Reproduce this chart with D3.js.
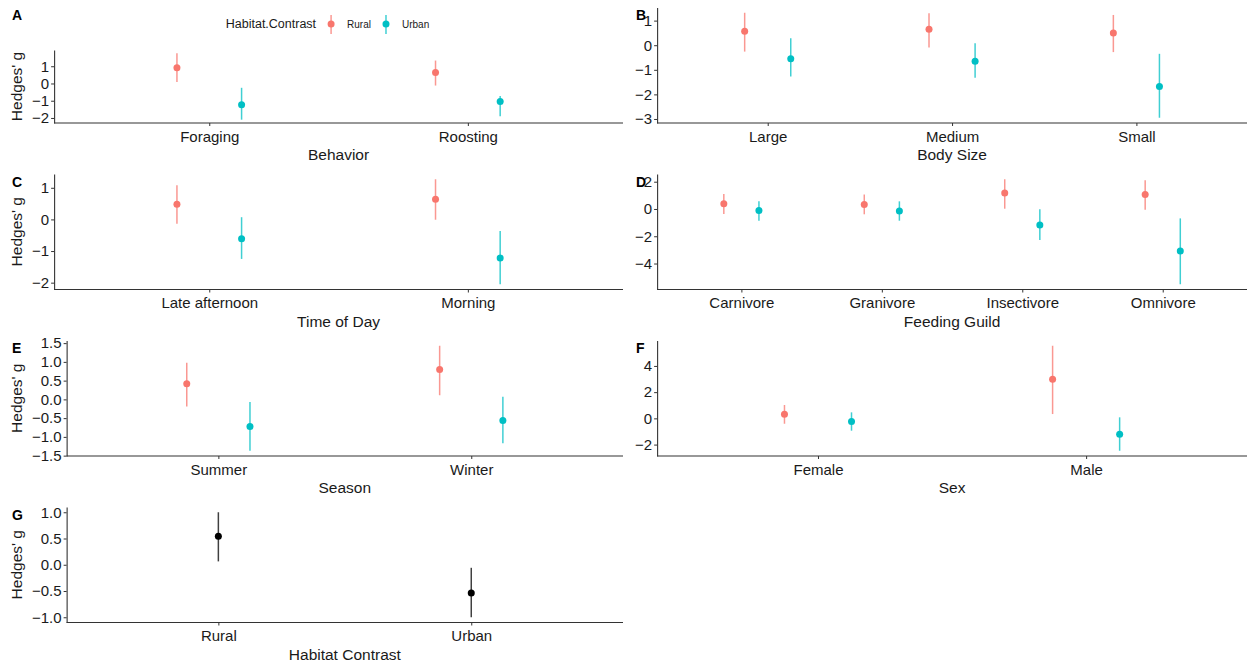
<!DOCTYPE html>
<html>
<head>
<meta charset="utf-8">
<script src="https://cdn.jsdelivr.net/npm/d3@7"></script>
<style>
body { margin: 0; background: #fff; }
svg text { font-family: "Liberation Sans", Arial, sans-serif; }
</style>
</head>
<body>
<div id="chart"></div>
<script>
var groups = ["Rural", "Urban"];
var groupColors = ["#F8766D", "#00BFC4"];

// every row is [estimate, lower, upper]
var behaviorCats = ["Foraging", "Roosting"];
var behaviorRural = [[0.92, 0.08, 1.75], [0.63, -0.12, 1.33]];
var behaviorUrban = [[-1.23, -2.10, -0.25], [-1.04, -1.90, -0.73]];
var behaviorTicks = [-2, -1, 0, 1];

var bodyCats = ["Large", "Medium", "Small"];
var bodyRural = [[0.57, -0.26, 1.32], [0.65, -0.09, 1.30], [0.50, -0.28, 1.23]];
var bodyUrban = [[-0.55, -1.27, 0.28], [-0.65, -1.32, 0.08], [-1.68, -2.95, -0.35]];
var bodyTicks = [-3, -2, -1, 0, 1];

var timeCats = ["Late afternoon", "Morning"];
var timeRural = [[0.48, -0.14, 1.08], [0.64, -0.01, 1.27]];
var timeUrban = [[-0.61, -1.25, 0.07], [-1.22, -2.05, -0.37]];
var timeTicks = [-2, -1, 0, 1];

var guildCats = ["Carnivore", "Granivore", "Insectivore", "Omnivore"];
var guildRural = [[0.39, -0.37, 1.10], [0.32, -0.39, 1.06], [1.18, 0.02, 2.18], [1.06, -0.05, 2.11]];
var guildUrban = [[-0.12, -0.86, 0.56], [-0.15, -0.86, 0.56], [-1.18, -2.28, -0.02], [-3.09, -5.52, -0.69]];
var guildTicks = [-4, -2, 0, 2];

var seasonCats = ["Summer", "Winter"];
var seasonRural = [[0.42, -0.19, 0.98], [0.80, 0.11, 1.43]];
var seasonUrban = [[-0.72, -1.37, -0.07], [-0.56, -1.17, 0.07]];
var seasonTicks = [-1.5, -1.0, -0.5, 0.0, 0.5, 1.0, 1.5];

var sexCats = ["Female", "Male"];
var sexRural = [[0.31, -0.41, 1.02], [2.98, 0.33, 5.54]];
var sexUrban = [[-0.23, -0.94, 0.46], [-1.22, -2.47, 0.08]];
var sexTicks = [-2, 0, 2, 4];

var habitatCats = ["Rural", "Urban"];
var habitatAll = [[0.545, 0.064, 1.0], [-0.54, -1.0, -0.058]];
var habitatTicks = [-1.0, -0.5, 0.0, 0.5, 1.0];

var panels = [
  {tag: "A", title: "Behavior", cats: behaviorCats, series: [behaviorRural, behaviorUrban], ticks: behaviorTicks, fmt: "d", col: 0, row: 0, legend: true},
  {tag: "B", title: "Body Size", cats: bodyCats, series: [bodyRural, bodyUrban], ticks: bodyTicks, fmt: "d", col: 1, row: 0},
  {tag: "C", title: "Time of Day", cats: timeCats, series: [timeRural, timeUrban], ticks: timeTicks, fmt: "d", col: 0, row: 1},
  {tag: "D", title: "Feeding Guild", cats: guildCats, series: [guildRural, guildUrban], ticks: guildTicks, fmt: "d", col: 1, row: 1},
  {tag: "E", title: "Season", cats: seasonCats, series: [seasonRural, seasonUrban], ticks: seasonTicks, fmt: ".1f", col: 0, row: 2},
  {tag: "F", title: "Sex", cats: sexCats, series: [sexRural, sexUrban], ticks: sexTicks, fmt: "d", col: 1, row: 2},
  {tag: "G", title: "Habitat Contrast", cats: habitatCats, series: [habitatAll], colors: ["#000"], ticks: habitatTicks, fmt: ".1f", col: 0, row: 3}
];

var W = 1254, H = 666;
var colW = 627, rowH = H / 4;
var axisColor = "#333", textColor = "#1a1a1a";

var svg = d3.select("#chart").append("svg")
    .attr("width", W)
    .attr("height", H);

function styleAxis(sel) {
  sel.attr("font-size", 15)
     .attr("font-family", "Liberation Sans, Arial, sans-serif");
  sel.select(".domain").attr("stroke", axisColor).attr("stroke-width", 1.1);
  sel.selectAll(".tick line").attr("stroke", axisColor).attr("stroke-width", 1);
  sel.selectAll(".tick text").attr("fill", textColor);
}

function drawPanel(p) {
  var x0 = p.col * colW, y0 = p.row * rowH;
  var g = svg.append("g");
  var top = y0 + (p.legend ? 50 : 7.5), bottom = y0 + 123;

  // y range like ggplot: data extent plus 5%
  var all = [].concat.apply([], p.series);
  var lo = d3.min(all, function(d) { return d[1]; });
  var hi = d3.max(all, function(d) { return d[2]; });
  var pad = (hi - lo) * 0.05;
  var y = d3.scaleLinear().domain([lo - pad, hi + pad]).range([bottom, top]);

  var yAxis = g.append("g")
      .call(d3.axisLeft(y).tickValues(p.ticks).tickFormat(d3.format(p.fmt))
            .tickSize(3).tickSizeOuter(0).tickPadding(2));
  styleAxis(yAxis);
  var labW = d3.max(yAxis.selectAll(".tick text").nodes(), function(n) { return n.getComputedTextLength(); });
  var left = x0 + (p.col === 0 ? 32 : 8) + labW + 5;
  yAxis.attr("transform", "translate(" + left + ",0)");

  var right = x0 + colW - (p.col === 0 ? 4 : 7);
  var x = d3.scalePoint().domain(p.cats).range([left, right]).padding(0.6);

  var xAxis = g.append("g")
      .attr("transform", "translate(0," + bottom + ")")
      .call(d3.axisBottom(x).tickSize(3).tickSizeOuter(0).tickPadding(5));
  styleAxis(xAxis);
  xAxis.select(".domain").attr("d", "M" + left + ",0H" + right);

  // point ranges, dodged by 0.25 of a category step
  var dodge = p.series.length > 1 ? x.step() * 0.125 : 0;
  var colors = p.colors || groupColors;
  p.series.forEach(function(s, k) {
    var off = p.series.length > 1 ? (k === 0 ? -dodge : dodge) : 0;
    var sg = g.append("g");
    sg.selectAll("line").data(s).enter().append("line")
      .attr("x1", function(d, i) { return x(p.cats[i]) + off; })
      .attr("x2", function(d, i) { return x(p.cats[i]) + off; })
      .attr("y1", function(d) { return y(d[1]); })
      .attr("y2", function(d) { return y(d[2]); })
      .attr("stroke", colors[k])
      .attr("stroke-width", 1.5)
      .attr("stroke-opacity", 0.75);
    sg.selectAll("circle").data(s).enter().append("circle")
      .attr("cx", function(d, i) { return x(p.cats[i]) + off; })
      .attr("cy", function(d) { return y(d[0]); })
      .attr("r", 3.5)
      .attr("fill", colors[k]);
  });

  // titles
  g.append("text")
    .attr("x", (left + right) / 2)
    .attr("y", y0 + 160)
    .attr("text-anchor", "middle")
    .attr("font-size", 15.5)
    .attr("fill", textColor)
    .text(p.title);
  if (p.col === 0) {
    g.append("text")
      .attr("transform", "translate(" + (x0 + 22) + "," + ((top + bottom) / 2) + ") rotate(-90)")
      .attr("text-anchor", "middle")
      .attr("font-size", 15.5)
      .attr("fill", textColor)
      .text("Hedges' g");
  }
  g.append("text")
    .attr("x", x0 + (p.col === 0 ? 12 : 9))
    .attr("y", y0 + 20)
    .attr("font-size", 14)
    .attr("font-weight", "bold")
    .attr("fill", "#000")
    .text(p.tag);

  // legend sits centred over the tick labels + panel
  if (p.legend) drawLegend(g, (x0 + 32 + right) / 2, y0 + 24);
}

function drawLegend(g, cx, cy) {
  var lg = g.append("g");
  var t = lg.append("text")
    .attr("x", 0).attr("y", cy)
    .attr("dy", "0.35em")
    .attr("font-size", 12.5)
    .attr("fill", textColor)
    .text("Habitat.Contrast");
  var xpos = t.node().getComputedTextLength() + 15;
  groups.forEach(function(name, k) {
    lg.append("line")
      .attr("x1", xpos).attr("x2", xpos)
      .attr("y1", cy - 9).attr("y2", cy + 10)
      .attr("stroke", groupColors[k])
      .attr("stroke-width", 1.5)
      .attr("stroke-opacity", 0.75);
    lg.append("circle")
      .attr("cx", xpos).attr("cy", cy)
      .attr("r", 3.5)
      .attr("fill", groupColors[k]);
    var lt = lg.append("text")
      .attr("x", xpos + 16).attr("y", cy)
      .attr("dy", "0.35em")
      .attr("font-size", 10)
      .attr("fill", textColor)
      .text(name);
    xpos += 16 + lt.node().getComputedTextLength() + 15;
  });
  var total = xpos - 15;
  lg.attr("transform", "translate(" + (cx - total / 2) + ",0)");
}

panels.forEach(drawPanel);
</script>
</body>
</html>
